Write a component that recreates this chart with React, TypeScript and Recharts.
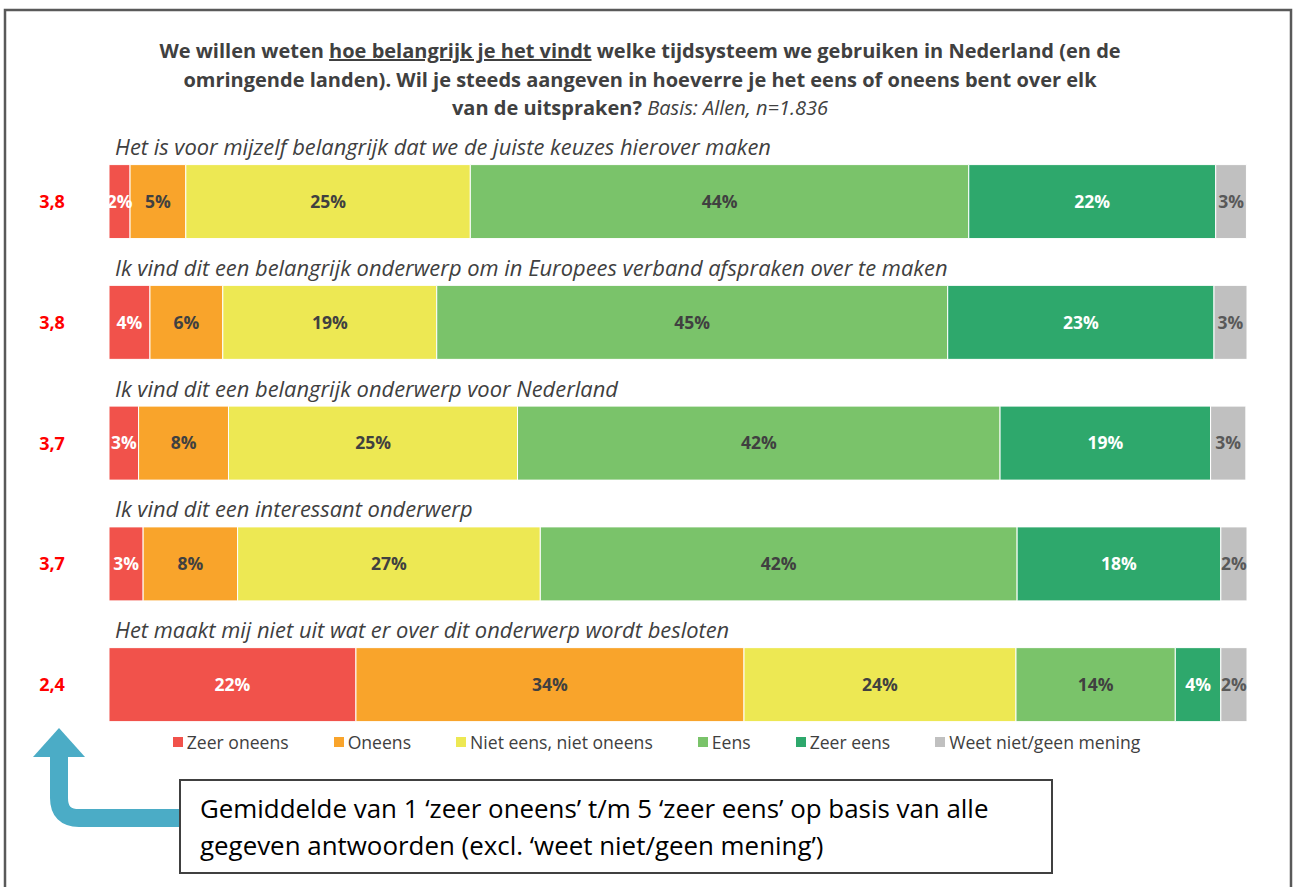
import React from "react";
import { BarChart, Bar, XAxis, YAxis, LabelList, Legend } from "recharts";

const statements = [
  "Het is voor mijzelf belangrijk dat we de juiste keuzes hierover maken",
  "Ik vind dit een belangrijk onderwerp om in Europees verband afspraken over te maken",
  "Ik vind dit een belangrijk onderwerp voor Nederland",
  "Ik vind dit een interessant onderwerp",
  "Het maakt mij niet uit wat er over dit onderwerp wordt besloten",
];
const means = ["3,8", "3,8", "3,7", "3,7", "2,4"];

const zeerOneens = [1.85, 3.6, 2.6, 3.0, 21.7];
const oneens = [4.9, 6.4, 7.9, 8.3, 34.1];
const neutraal = [25.0, 18.8, 25.4, 26.6, 23.9];
const eens = [43.8, 44.9, 42.4, 41.9, 14.0];
const zeerEens = [21.7, 23.4, 18.5, 17.9, 4.0];
const weetNiet = [2.7, 2.9, 3.1, 2.3, 2.3];

const seriesNames = [
  "Zeer oneens",
  "Oneens",
  "Niet eens, niet oneens",
  "Eens",
  "Zeer eens",
  "Weet niet/geen mening",
];
const seriesKeys = ["zo", "o", "n", "e", "ze", "w"];
const seriesColors = ["#F1524B", "#F9A42B", "#EDE853", "#7AC36A", "#2EA86C", "#C0C0C0"];
const labelColors = ["#FFFFFF", "#404040", "#404040", "#404040", "#FFFFFF", "#595959"];

const data = statements.map((s, i) => ({
  name: s,
  zo: zeerOneens[i],
  o: oneens[i],
  n: neutraal[i],
  e: eens[i],
  ze: zeerEens[i],
  w: weetNiet[i],
}));

const FONT = "'Open Sans', sans-serif";

const RowTick = (props: any) => {
  const { y, payload } = props;
  const idx = statements.indexOf(payload.value);
  return (
    <g>
      <text x={52} y={y} dy={6} textAnchor="middle" fill="#FF0000" fontWeight={700} fontSize={18} fontFamily={FONT}>
        {means[idx]}
      </text>
      <text x={115} y={y - 47} textAnchor="start" fill="#404040" fontStyle="italic" fontSize={21.9} fontFamily={FONT}>
        {payload.value}
      </text>
    </g>
  );
};

const LegendContent = () => {
  return (
    <div
      style={{
        display: "flex",
        justifyContent: "center",
        alignItems: "center",
        height: 24,
        paddingLeft: 20,
        fontFamily: FONT,
        fontSize: 17.6,
        color: "#404040",
      }}
    >
      {seriesNames.map((name, i) => (
        <div key={name} style={{ display: "flex", alignItems: "center", marginRight: i < 5 ? 45 : 0 }}>
          <div style={{ width: 10, height: 10, background: seriesColors[i], marginRight: 4 }} />
          <span>{name}</span>
        </div>
      ))}
    </div>
  );
};

export default function App() {
  return (
    <div
      style={{
        position: "absolute",
        left: 0,
        top: 0,
        width: 1293,
        height: 887,
        overflow: "hidden",
        background: "#fff",
      }}
    >
      <svg width={1293} height={887} style={{ position: "absolute", left: 0, top: 0 }}>
        <path d="M5 890 L5 10 L1291 10 L1291 890" fill="none" stroke="#595959" strokeWidth={2.5} />
        <g fontFamily={FONT} fontWeight={700} fontSize={20} fill="#404040" textAnchor="middle">
          <text x={640} y={58}>
            We willen weten <tspan textDecoration="underline" style={{ textDecoration: "underline" }}>hoe belangrijk je het vindt</tspan> welke tijdsysteem we gebruiken in Nederland (en de
          </text>
          <text x={640} y={87}>
            omringende landen). Wil je steeds aangeven in hoeverre je het eens of oneens bent over elk
          </text>
          <text x={640} y={115}>
            van de uitspraken? <tspan fontWeight={400} fontStyle="italic">Basis: Allen, n=1.836</tspan>
          </text>
        </g>
      </svg>
      <div style={{ position: "absolute", left: 0, top: 0 }}>
        <BarChart
          width={1293}
          height={887}
          data={data}
          layout="vertical"
          margin={{ top: 141.6, right: 46, bottom: 141.6, left: 9 }}
        >
          <XAxis type="number" domain={[0, 100]} hide />
          <YAxis
            type="category"
            dataKey="name"
            width={100}
            axisLine={false}
            tickLine={false}
            tick={<RowTick />}
            interval={0}
          />
          <Legend
            verticalAlign="middle"
            align="center"
            layout="horizontal"
            wrapperStyle={{ top: 730, left: 0, width: 1293 }}
            content={<LegendContent />}
          />
          {seriesKeys.map((k, i) => (
            <Bar
              key={k}
              dataKey={k}
              name={seriesNames[i]}
              stackId="a"
              fill={seriesColors[i]}
              stroke="#FFFFFF"
              strokeWidth={1}
              barSize={74}
              isAnimationActive={false}
            >
              <LabelList
                dataKey={k}
                position="center"
                formatter={(v: any) => `${Math.round(Number(v))}%`}
                fill={labelColors[i]}
                style={{ fontWeight: 700, fontSize: 17.5, fontFamily: FONT, fill: labelColors[i] }}
              />
            </Bar>
          ))}
        </BarChart>
      </div>
      <svg width={1293} height={887} style={{ position: "absolute", left: 0, top: 0, pointerEvents: "none" }}>
        <path d="M59 750 L59 798 Q59 818 79 818 L190 818" fill="none" stroke="#4BACC6" strokeWidth={18} />
        <polygon points="59,728 33,757 85,757" fill="#4BACC6" />
        <rect x={180} y={780} width={872} height={93} fill="#FFFFFF" stroke="#404040" strokeWidth={2} />
        <g fontFamily={FONT} fontSize={25.9} fill="#000000">
          <text x={200} y={818}>Gemiddelde van 1 ‘zeer oneens’ t/m 5 ‘zeer eens’ op basis van alle</text>
          <text x={200} y={855}>gegeven antwoorden (excl. ‘weet niet/geen mening’)</text>
        </g>
      </svg>
    </div>
  );
}
